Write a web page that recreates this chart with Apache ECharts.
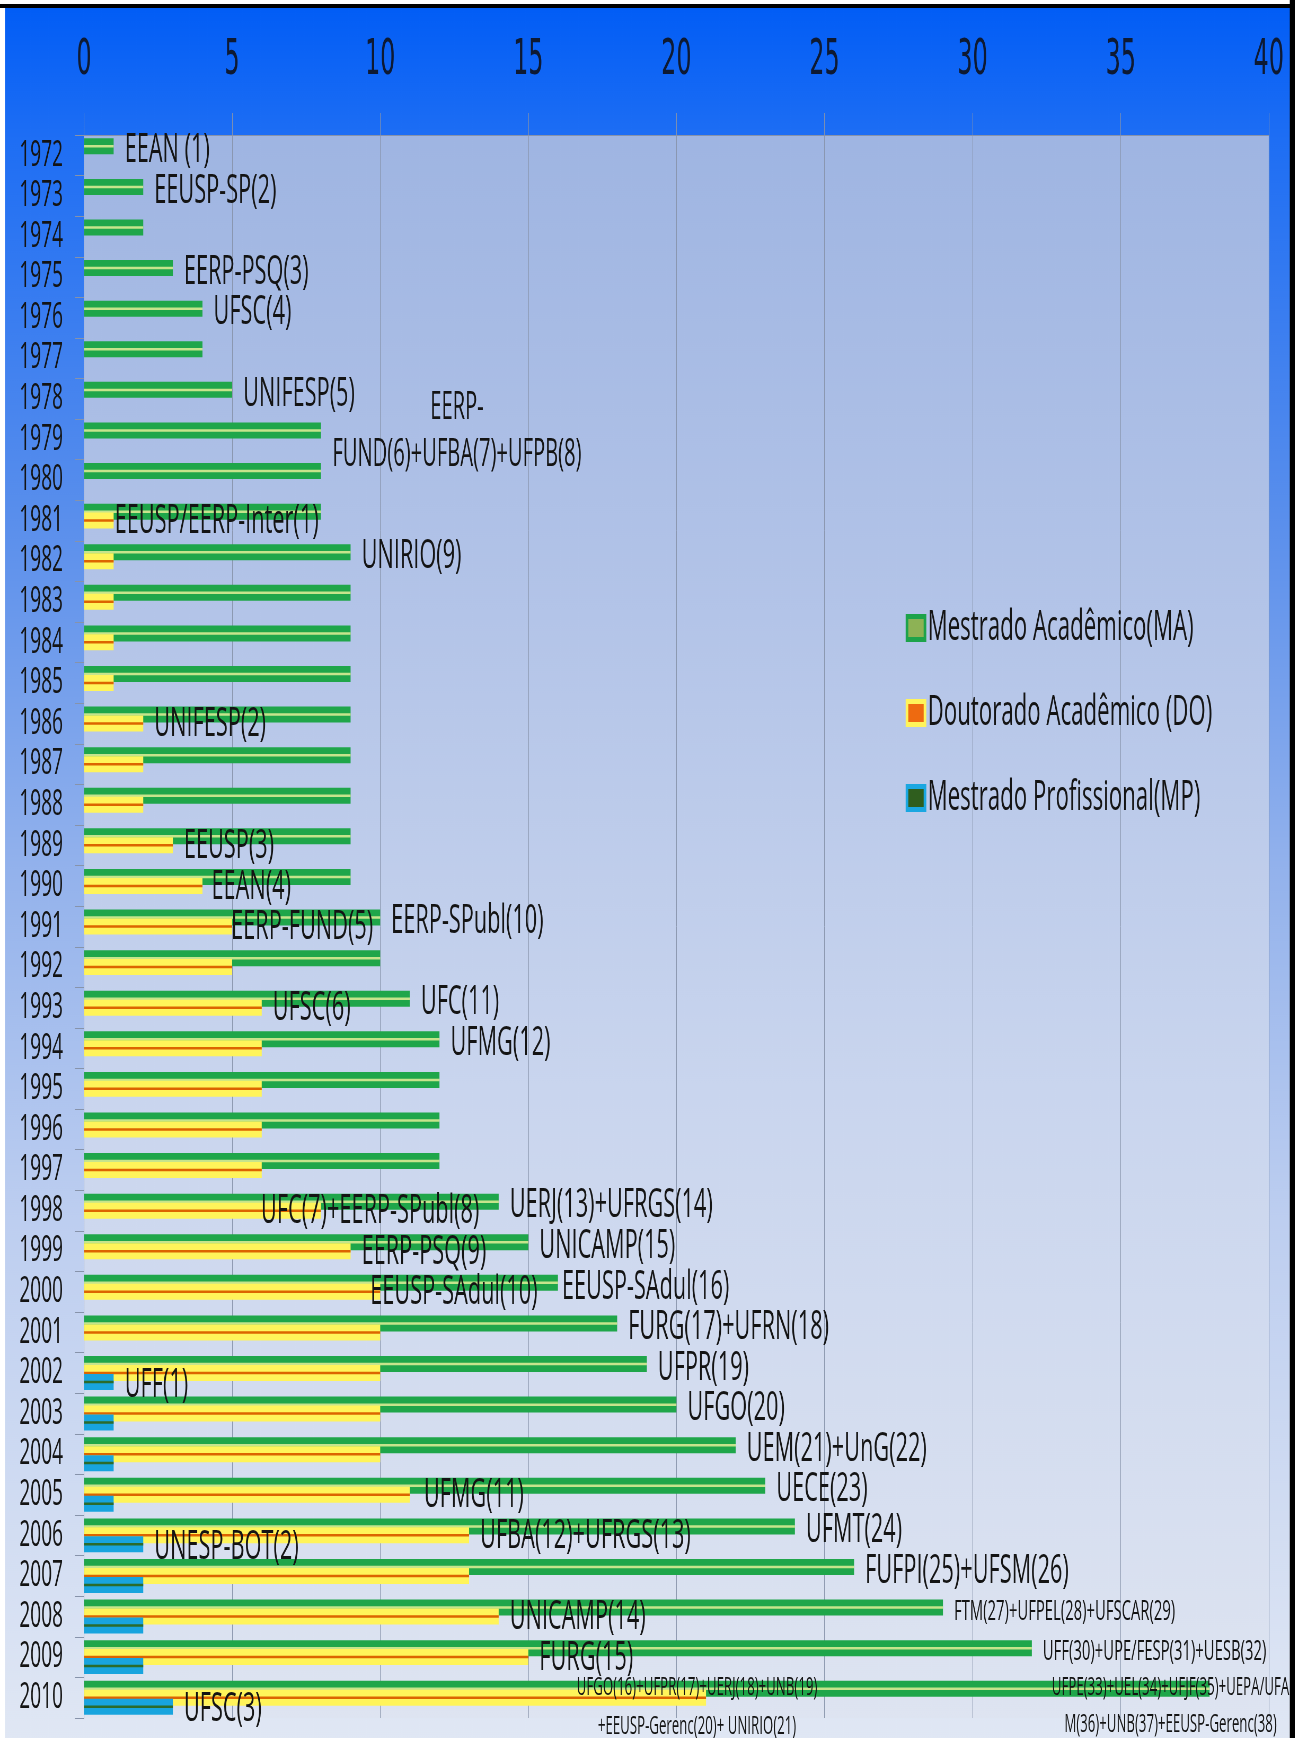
<!DOCTYPE html>
<html>
<head>
<meta charset="utf-8">
<title>Programas de pós-graduação em enfermagem 1972-2010</title>
<script src="https://cdn.jsdelivr.net/npm/echarts@6/dist/echarts.min.js"></script>
<style>
  html, body { margin: 0; padding: 0; background: #fff; }
  #wrap { width: 1295px; height: 1738px; overflow: hidden; position: relative; }
  /* the source picture is squeezed sideways: draw wide, then squeeze back */
  #main { width: 2443px; height: 1738px; transform: scaleX(0.53); transform-origin: 0 0; }
</style>
</head>
<body>
<div id="wrap"><div id="main"></div></div>
<script>
var SQUEEZE = 0.53

var years = ['1972', '1973', '1974', '1975', '1976', '1977', '1978', '1979', '1980', '1981',
  '1982', '1983', '1984', '1985', '1986', '1987', '1988', '1989', '1990', '1991',
  '1992', '1993', '1994', '1995', '1996', '1997', '1998', '1999', '2000', '2001',
  '2002', '2003', '2004', '2005', '2006', '2007', '2008', '2009', '2010']

var xMin = 0
var xMax = 40
var xStep = 5

var seriesNames = ['Mestrado Acadêmico(MA)', 'Doutorado Acadêmico (DO)', 'Mestrado Profissional(MP)']

// Mestrado Acadêmico
var maValues = [1, 2, 2, 3, 4, 4, 5, 8, 8, 8,
  9, 9, 9, 9, 9, 9, 9, 9, 9, 10,
  10, 11, 12, 12, 12, 12, 14, 15, 16, 18,
  19, 20, 22, 23, 24, 26, 29, 32, 38]

// Doutorado Acadêmico
var doValues = [null, null, null, null, null, null, null, null, null, 1,
  1, 1, 1, 1, 2, 2, 2, 3, 4, 5,
  5, 6, 6, 6, 6, 6, 8, 9, 10, 10,
  10, 10, 10, 11, 13, 13, 14, 15, 21]

// Mestrado Profissional
var mpValues = [null, null, null, null, null, null, null, null, null, null,
  null, null, null, null, null, null, null, null, null, null,
  null, null, null, null, null, null, null, null, null, null,
  1, 1, 1, 1, 2, 2, 2, 2, 3]

var maNotes = ['EEAN (1)', 'EEUSP-SP(2)', '', 'EERP-PSQ(3)', 'UFSC(4)', '', 'UNIFESP(5)', 'EERP-\nFUND(6)+UFBA(7)+UFPB(8)', '', '',
  'UNIRIO(9)', '', '', '', '', '', '', '', '', 'EERP-SPubl(10)',
  '', 'UFC(11)', 'UFMG(12)', '', '', '', 'UERJ(13)+UFRGS(14)', 'UNICAMP(15)', 'EEUSP-SAdul(16)', 'FURG(17)+UFRN(18)',
  'UFPR(19)', 'UFGO(20)', 'UEM(21)+UnG(22)', 'UECE(23)', 'UFMT(24)', 'FUFPI(25)+UFSM(26)', 'FTM(27)+UFPEL(28)+UFSCAR(29)', 'UFF(30)+UPE/FESP(31)+UESB(32)',
  'UFPE(33)+UEL(34)+UFJF(35)+UEPA/UFA\nM(36)+UNB(37)+EEUSP-Gerenc(38)']

var doNotes = ['', '', '', '', '', '', '', '', '', 'EEUSP/EERP-Inter(1)',
  '', '', '', '', 'UNIFESP(2)', '', '', 'EEUSP(3)', 'EEAN(4)', 'EERP-FUND(5)',
  '', 'UFSC(6)', '', '', '', '', 'UFC(7)+EERP-SPubl(8)', 'EERP-PSQ(9)', 'EEUSP-SAdul(10)', '',
  '', '', '', 'UFMG(11)', 'UFBA(12)+UFRGS(13)', '', 'UNICAMP(14)', 'FURG(15)',
  'UFGO(16)+UFPR(17)+UERJ(18)+UNB(19)\n+EEUSP-Gerenc(20)+ UNIRIO(21)']

var mpNotes = ['', '', '', '', '', '', '', '', '', '',
  '', '', '', '', '', '', '', '', '', '',
  '', '', '', '', '', '', '', '', '', '',
  'UFF(1)', '', '', '', 'UNESP-BOT(2)', '', '', '', 'UFSC(3)']

// screen px -> chart units along x (chart is squeezed afterwards)
function hx(px) {
  return px / SQUEEZE
}

// where the hand-placed labels of the original sit (screen px)
var labelTweaks = {
  'ma-1979': { align: 'center', dx: 136, dy: 1, size: 38, lh: 47 },
  'ma-2000': { gap: 4 },
  'ma-2008': { size: 28 },
  'ma-2009': { size: 28 },
  'ma-2010': { align: 'center', dx: -39, dy: 18, size: 25, lh: 37 },
  'do-1981': { gap: 1 },
  'do-1990': { gap: 9 },
  'do-1991': { gap: -1 },
  'do-1998': { gap: -60 },
  'do-2000': { gap: -10 },
  'do-2005': { gap: 14 },
  'do-2010': { align: 'center', dx: -9, dy: 10, size: 25, lh: 39 }
}
var baseDy = { ma: 4, do: 1, mp: 3 }

function withNotes(values, notes, key) {
  return values.map(function (v, i) {
    if (!notes[i]) return v
    var t = labelTweaks[key + '-' + years[i]] || {}
    var gap = t.gap != null ? t.gap : 11
    return {
      value: v,
      label: {
        show: true,
        formatter: notes[i],
        position: 'right',
        distance: t.align ? 0 : hx(gap),
        align: t.align || 'left',
        offset: [hx(t.dx || 0), t.dy != null ? t.dy : baseDy[key]],
        fontSize: t.size || 41,
        lineHeight: t.lh || 46,
        fontFamily: 'Open Sans',
        color: '#141414'
      }
    }
  })
}

var chart = echarts.init(document.getElementById('main'), null, { renderer: 'canvas' })

var barColor = ['#1FA64A', '#FFF45A', '#18A4DE']
var stripeColor = ['#C6E48C', '#DC6400', '#2B6B2B']

function mainBar(i, data) {
  return {
    name: seriesNames[i],
    type: 'bar',
    yAxisIndex: 0,
    barWidth: 16,
    barGap: '-44%',
    itemStyle: { color: barColor[i] },
    data: data
  }
}
function stripe(i, values) {
  return {
    name: 'stripe' + i,
    type: 'bar',
    yAxisIndex: 1,
    barWidth: 2.5,
    barGap: '258%',
    itemStyle: { color: stripeColor[i] },
    data: values
  }
}

var option = {
  animation: false,
  backgroundColor: new echarts.graphic.LinearGradient(0, 0, 0, 1, [
    { offset: 0, color: '#005CF6' },
    { offset: 0.08, color: '#1E6EF4' },
    { offset: 0.3, color: '#5A8FEC' },
    { offset: 0.5, color: '#93B2EC' },
    { offset: 0.7, color: '#BDCEF0' },
    { offset: 1, color: '#E0E7F4' }
  ]),
  grid: {
    left: hx(84),
    right: hx(26),
    top: 135,
    bottom: 20,
    show: true,
    borderWidth: 0,
    backgroundColor: new echarts.graphic.LinearGradient(0, 0, 0, 1, [
      { offset: 0, color: '#9FB5E2' },
      { offset: 0.3, color: '#B3C4E8' },
      { offset: 0.6, color: '#C9D5EE' },
      { offset: 1, color: '#DEE4F1' }
    ])
  },
  legend: {
    orient: 'vertical',
    left: hx(903),
    top: 602,
    itemWidth: hx(18),
    itemHeight: 23,
    itemGap: 43,
    icon: 'rect',
    textStyle: { fontFamily: 'Open Sans', fontSize: 42, lineHeight: 40, color: '#141414' },
    data: [
      { name: seriesNames[0], itemStyle: { color: '#8DB255', borderColor: '#1DA34A', borderWidth: 5 } },
      { name: seriesNames[1], itemStyle: { color: '#EE6A10', borderColor: '#FFF45A', borderWidth: 5 } },
      { name: seriesNames[2], itemStyle: { color: '#2F5E1E', borderColor: '#1AA7E1', borderWidth: 5 } }
    ]
  },
  xAxis: {
    type: 'value',
    position: 'top',
    min: xMin,
    max: xMax,
    interval: xStep,
    axisLine: { show: true, lineStyle: { color: '#8793AA', width: 1 } },
    axisTick: { show: true, length: 22, lineStyle: { color: '#8793AA' } },
    splitLine: { show: true, lineStyle: { color: '#8793AA', width: 1 } },
    axisLabel: {
      margin: 49,
      fontFamily: "'Liberation Sans Narrow', 'DejaVu Sans Condensed', sans-serif",
      fontSize: 50,
      color: '#0E1A33'
    }
  },
  yAxis: [{
    type: 'category',
    data: years,
    inverse: true,
    axisLine: { show: true, lineStyle: { color: '#9AA7BE' } },
    axisTick: { show: true, length: hx(9), lineStyle: { color: '#8793AA' } },
    axisLabel: { interval: 0, margin: hx(21), fontFamily: 'Open Sans', fontSize: 36, color: '#141414' }
  }, {
    type: 'category',
    data: years,
    inverse: true,
    show: false
  }],
  graphic: [
    { type: 'rect', left: 0, top: 0, shape: { width: 2443, height: 4 }, style: { fill: '#ffffff' }, silent: true },
    { type: 'rect', left: 0, top: 4, shape: { width: 2443, height: 4 }, style: { fill: '#000000' }, silent: true },
    { type: 'rect', left: 0, top: 8, shape: { width: hx(5), height: 1730 }, style: { fill: '#ffffff' }, silent: true },
    { type: 'rect', right: 0, top: 0, shape: { width: hx(5), height: 1738 }, style: { fill: '#000000' }, silent: true }
  ],
  series: [
    mainBar(0, withNotes(maValues, maNotes, 'ma')),
    stripe(0, maValues),
    mainBar(1, withNotes(doValues, doNotes, 'do')),
    stripe(1, doValues),
    mainBar(2, withNotes(mpValues, mpNotes, 'mp')),
    stripe(2, mpValues)
  ]
}

chart.setOption(option)
</script>
</body>
</html>
